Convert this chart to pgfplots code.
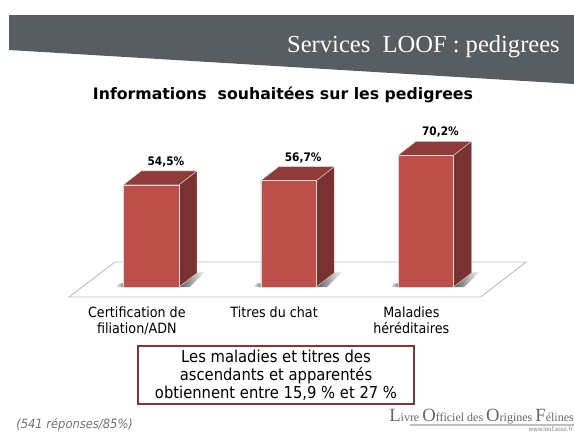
\documentclass[border=0pt]{standalone}
\usepackage{pgfplots}
\pgfplotsset{compat=1.18}
\usepackage{fontspec}
\setmainfont{DejaVu Sans}[FakeStretch=0.9]
\newfontfamily\verdf{DejaVu Sans}
\newfontfamily\timesf{Liberation Serif}
\definecolor{band}{HTML}{585D62}
\definecolor{barfront}{HTML}{BE4F4B}
\definecolor{barside}{HTML}{7A3230}
\definecolor{bartop}{HTML}{8F3B3A}
\definecolor{boxred}{HTML}{8A3335}
\begin{document}
\begin{tikzpicture}[x=0.75pt,y=-0.75pt]
% page size, coordinates are reference pixels
\clip (0,0) rectangle (574,432);
\fill[band] (9,15) -- (574,15) -- (574,84) -- (9,50) -- cycle;
\node[anchor=base east,inner sep=0pt,text=white,font=\timesf\fontsize{18.4}{20}\selectfont] at (560,52) {Services\ \ LOOF : pedigrees};
\node[anchor=base,inner sep=0pt,font=\verdf\fontsize{11.8}{12}\selectfont\bfseries] at (283,99) {Informations\ \ souhaitées sur les pedigrees};
\coordinate (ax) at (60,297);
\begin{axis}[at={(ax)},anchor=south west,scale only axis,width=360pt,height=127.5pt,
  xmin=0.3352,xmax=3.8324,ymin=-5.333,ymax=85.33,clip=false,
  axis line style={draw=none},tick style={draw=none},ytick=\empty,
  xtick={0.895,1.895,2.895},
  xticklabels={Certification de\\filiation/ADN,Titres du chat,Maladies\\héréditaires},
  x tick label style={align=center,font=\fontsize{10.6}{12}\selectfont,anchor=north,yshift=-4pt},
  /pgf/number format/assume math mode=true]
% floor
\addplot[draw=black!25,fill=white,line width=0.7pt] coordinates {(0.4007,-5.33)(3.400,-5.33)(3.7305,13.33)(0.7359,13.33)} --cycle;
% shadows on the floor
\addplot[draw=none,left color=black!65,right color=white] coordinates {(1.2022,0)(1.3333,7.47)(1.40,8.5)(1.28,0)} --cycle;
\addplot[draw=none,left color=black!65,right color=white] coordinates {(2.2022,0)(2.3333,7.47)(2.40,8.5)(2.28,0)} --cycle;
\addplot[draw=none,left color=black!65,right color=white] coordinates {(3.2022,0)(3.3333,7.47)(3.40,8.5)(3.28,0)} --cycle;
\addplot[draw=none,left color=white,right color=black!50] coordinates {(0.74,0)(0.7978,0)(0.7978,2)(0.77,2)} --cycle;
\addplot[draw=none,left color=white,right color=black!50] coordinates {(1.74,0)(1.7978,0)(1.7978,2)(1.77,2)} --cycle;
\addplot[draw=none,left color=white,right color=black!50] coordinates {(2.74,0)(2.7978,0)(2.7978,2)(2.77,2)} --cycle;
% side faces
\addplot[fill=barside,draw=black!15,line width=0.3pt] coordinates {(1.2022,0)(1.3333,7.47)(1.3333,61.97)(1.2022,54.5)} --cycle;
\addplot[fill=barside,draw=black!15,line width=0.3pt] coordinates {(2.2022,0)(2.3333,7.47)(2.3333,64.17)(2.2022,56.7)} --cycle;
\addplot[fill=barside,draw=black!15,line width=0.3pt] coordinates {(3.2022,0)(3.3333,7.47)(3.3333,77.67)(3.2022,70.2)} --cycle;
% top faces
\addplot[fill=bartop,draw=black!15,line width=0.3pt] coordinates {(0.7978,54.5)(0.9289,61.97)(1.3333,61.97)(1.2022,54.5)} --cycle;
\addplot[fill=bartop,draw=black!15,line width=0.3pt] coordinates {(1.7978,56.7)(1.9289,64.17)(2.3333,64.17)(2.2022,56.7)} --cycle;
\addplot[fill=bartop,draw=black!15,line width=0.3pt] coordinates {(2.7978,70.2)(2.9289,77.67)(3.3333,77.67)(3.2022,70.2)} --cycle;
% front faces with the values
\addplot[ybar,bar width=41.6pt,fill=barfront,draw=black!15,line width=0.3pt,
  nodes near coords={\pgfmathprintnumber[fixed,fixed zerofill,precision=1,use comma,assume math mode=true]{\pgfplotspointmeta}\%},
  every node near coord/.append style={font=\fontsize{8.8}{10}\selectfont\bfseries,text=black,xshift=11pt,yshift=10pt}]
  coordinates {(1,54.5)(2,56.7)(3,70.2)};
\end{axis}
\node[draw=boxred,line width=1.6pt,fill=white,minimum width=207pt,minimum height=43pt,inner sep=0pt,align=center,
  font=\fontsize{12.3}{13.5}\selectfont] at (276,375) {Les maladies et titres des\\ascendants et apparentés\\obtiennent entre 15,9 \% et 27 \%};
\node[anchor=base west,inner sep=0pt,text=black!55,font=\fontsize{9.6}{10}\selectfont\itshape] at (16,428.5) {(541 réponses/85\%)};
\node[anchor=base east,inner sep=0pt,text=black!60,font=\timesf\fontsize{9}{10}\selectfont] at (574,421)
  {{\fontsize{14}{10}\selectfont L}ivre {\fontsize{14}{10}\selectfont O}fficiel des {\fontsize{14}{10}\selectfont O}rigines {\fontsize{14}{10}\selectfont F}élines};
\draw[black!25,line width=0.8pt] (410,425) -- (574,425);
\node[anchor=base east,inner sep=0pt,text=black!50,font=\fontsize{4.5}{5}\selectfont] at (573,431) {www.loof.asso.fr};
\end{tikzpicture}
\end{document}
